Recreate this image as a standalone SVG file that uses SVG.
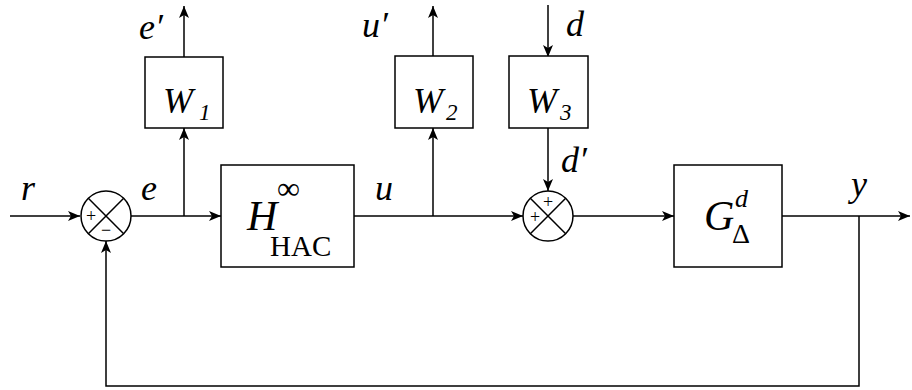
<svg xmlns="http://www.w3.org/2000/svg" width="912" height="390" viewBox="0 0 912 390">
<defs>
<marker id="arr" viewBox="0 0 12 10" refX="12" refY="5" markerWidth="12" markerHeight="10" markerUnits="userSpaceOnUse" orient="auto">
<path d="M0,0 L12,5 L0,10 L3,5 Z" fill="#000"/>
</marker>
</defs>
<style>
.box{fill:#fff;stroke:#000;stroke-width:1.5}
.ln{fill:none;stroke:#000;stroke-width:1.5}
.m{font-family:"Liberation Serif",serif;font-style:italic;fill:#000}
.r{font-family:"Liberation Serif",serif;fill:#000}
.s{font-family:"Liberation Serif",serif;fill:#000;font-size:18px}
</style>
<rect width="912" height="390" fill="#fff"/>
<g id="connectors">
<path class="ln" d="M10,216 L80,216" marker-end="url(#arr)"/>
<path class="ln" d="M131,216 L221,216" marker-end="url(#arr)"/>
<path class="ln" d="M184,216 L184,128" marker-end="url(#arr)"/>
<path class="ln" d="M184,57 L184,6" marker-end="url(#arr)"/>
<path class="ln" d="M354,216 L523,216" marker-end="url(#arr)"/>
<path class="ln" d="M433,216 L433,128" marker-end="url(#arr)"/>
<path class="ln" d="M433,56 L433,6" marker-end="url(#arr)"/>
<path class="ln" d="M548,5 L548,57" marker-end="url(#arr)"/>
<path class="ln" d="M548,128 L548,191" marker-end="url(#arr)"/>
<path class="ln" d="M573,216 L674,216" marker-end="url(#arr)"/>
<path class="ln" d="M782,216 L910,216" marker-end="url(#arr)"/>
<path class="ln" d="M859,216 L859,386 L106,386 L106,241" marker-end="url(#arr)"/>
</g>
<g id="sum1">
<circle class="ln" cx="106" cy="216" r="25"/>
<path class="ln" d="M88.3,198.3 L123.7,233.7 M123.7,198.3 L88.3,233.7"/>
<text class="s" x="91" y="222" text-anchor="middle">+</text>
<text class="s" x="106" y="236" text-anchor="middle">−</text>
</g>
<g id="sum2">
<circle class="ln" cx="548" cy="216" r="25"/>
<path class="ln" d="M530.3,198.3 L565.7,233.7 M565.7,198.3 L530.3,233.7"/>
<text class="s" x="548" y="208" text-anchor="middle">+</text>
<text class="s" x="535" y="223" text-anchor="middle">+</text>
</g>
<g id="H">
<rect class="box" x="221" y="165" width="133" height="102"/>
<text class="m" x="247" y="230" font-size="42">H</text>
<text class="r" x="277" y="199" font-size="32">∞</text>
<text class="r" x="270" y="256" font-size="29">HAC</text>
</g>
<g id="G">
<rect class="box" x="674" y="165" width="108" height="102"/>
<text class="m" x="704" y="230" font-size="42">G</text>
<text class="m" x="735" y="207" font-size="26">d</text>
<text class="r" x="732" y="243" font-size="28">Δ</text>
</g>
<g id="W1">
<rect class="box" x="145" y="57" width="78" height="71"/>
<text class="m" x="163" y="113" font-size="36">W</text>
<text class="m" x="199" y="120" font-size="23">1</text>
</g>
<g id="W2">
<rect class="box" x="395" y="56" width="78" height="72"/>
<text class="m" x="413" y="113" font-size="36">W</text>
<text class="m" x="446" y="120" font-size="23">2</text>
</g>
<g id="W3">
<rect class="box" x="509" y="56" width="79" height="72"/>
<text class="m" x="527" y="113" font-size="36">W</text>
<text class="m" x="560" y="120" font-size="23">3</text>
</g>
<g id="labels">
<text class="m" x="21" y="200" font-size="36">r</text>
<text class="m" x="141" y="200" font-size="36">e</text>
<text class="m" x="375" y="200" font-size="36">u</text>
<text class="m" x="851" y="196" font-size="36">y</text>
<text class="m" x="139" y="39" font-size="36">e′</text>
<text class="m" x="362" y="37" font-size="36">u′</text>
<text class="m" x="566" y="36" font-size="36">d</text>
<text class="m" x="561" y="172" font-size="36">d′</text>
</g>
</svg>
